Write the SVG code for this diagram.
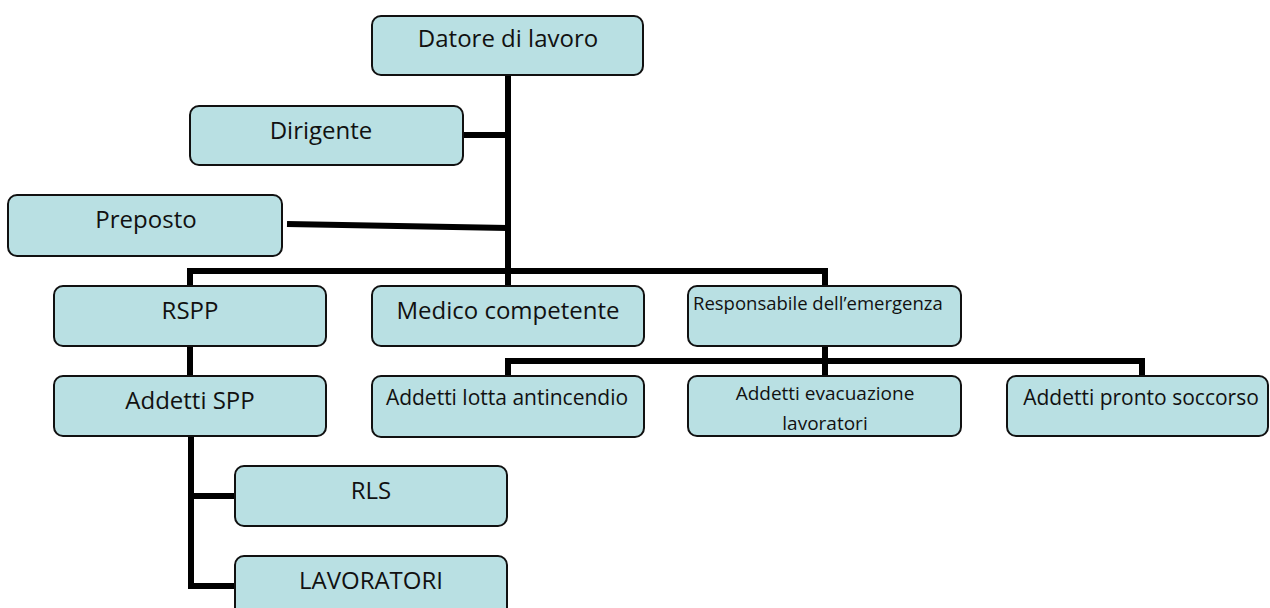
<svg xmlns="http://www.w3.org/2000/svg" width="1270" height="608" viewBox="0 0 1270 608">
<style>
.box{fill:#b9e0e3;stroke:#111;stroke-width:2}
.t{font-family:"Open Sans","Liberation Sans",sans-serif;fill:#111;text-anchor:middle}
.c{fill:none;stroke:#000;stroke-width:6;stroke-linejoin:miter}
</style>
<rect width="1270" height="608" fill="#fff"/>
<g id="connectors">
<path class="c" d="M508 75 V286"/>
<path class="c" d="M463 135 H508"/>
<path class="c" d="M287 224 L508 228"/>
<path class="c" d="M190 286 V271 H825 V286"/>
<path class="c" d="M825 346 V376"/>
<path class="c" d="M508 376 V361 H1142 V376"/>
<path class="c" d="M190 346 V376"/>
<path class="c" d="M235 496 H191 M191 436 V586 H235"/>
</g>
<g id="datore"><rect class="box" x="372" y="16" width="271" height="59" rx="9"/><text class="t" x="508" y="47" font-size="24">Datore di lavoro</text></g>
<g id="dirigente"><rect class="box" x="190" y="106" width="273" height="59" rx="9"/><text class="t" x="321" y="139" font-size="24">Dirigente</text></g>
<g id="preposto"><rect class="box" x="8" y="195" width="274" height="61" rx="9"/><text class="t" x="146" y="228" font-size="24">Preposto</text></g>
<g id="rspp"><rect class="box" x="54" y="286" width="272" height="60" rx="9"/><text class="t" x="190" y="319" font-size="24">RSPP</text></g>
<g id="medico"><rect class="box" x="372" y="286" width="272" height="60" rx="9"/><text class="t" x="508" y="319" font-size="24">Medico competente</text></g>
<g id="responsabile"><rect class="box" x="688" y="286" width="273" height="60" rx="9"/><text class="t" x="693" y="310" font-size="18.5" style="text-anchor:start">Responsabile dell’emergenza</text></g>
<g id="addetti-spp"><rect class="box" x="54" y="376" width="272" height="60" rx="9"/><text class="t" x="190" y="409" font-size="24">Addetti SPP</text></g>
<g id="lotta"><rect class="box" x="372" y="376" width="272" height="61" rx="9"/><text class="t" x="507" y="405" font-size="21">Addetti lotta antincendio</text></g>
<g id="evacuazione"><rect class="box" x="688" y="376" width="273" height="60" rx="9"/><text class="t" x="825" y="400" font-size="19">Addetti evacuazione</text><text class="t" x="825" y="430" font-size="19">lavoratori</text></g>
<g id="pronto"><rect class="box" x="1007" y="376" width="261" height="60" rx="9"/><text class="t" x="1141" y="405" font-size="21">Addetti pronto soccorso</text></g>
<g id="rls"><rect class="box" x="235" y="466" width="272" height="60" rx="9"/><text class="t" x="371" y="499" font-size="24">RLS</text></g>
<g id="lavoratori"><rect class="box" x="235" y="556" width="272" height="60" rx="9"/><text class="t" x="371" y="589" font-size="24">LAVORATORI</text></g>
</svg>
